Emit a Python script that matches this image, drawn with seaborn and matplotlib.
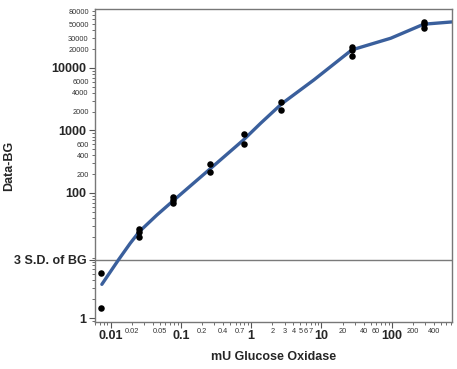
import numpy as np
import pandas as pd
import matplotlib
matplotlib.use("Agg")
import matplotlib.pyplot as plt
import matplotlib.ticker as mticker
import seaborn as sns

# measured points (mU glucose oxidase vs background-subtracted signal)
dose = [0.0073, 0.0073,
        0.0255, 0.0255, 0.0255,
        0.077, 0.077, 0.077,
        0.256, 0.256,
        0.78, 0.78,
        2.7, 2.7,
        27, 27, 27,
        285, 285, 285]
signal = [5.3, 1.46,
          27, 24, 20,
          85, 77, 68,
          291, 214,
          880, 608,
          2900, 2130,
          21500, 19500, 15500,
          54400, 50000, 43000]

# fitted curve
curve_dose = [0.0075, 0.0129, 0.019, 0.0255, 0.0456, 0.077, 0.256, 0.776,
              1.36, 2.7, 7.8, 27, 97, 285, 736]
curve_signal = [3.46, 8.5, 15.7, 24, 44.5, 74.5, 239, 705,
                1300, 2655, 6430, 19400, 29850, 50000, 54500]

sd3 = 8.6  # 3 S.D. of background

y_major = [1, sd3, 100, 1000, 10000]
y_major_labels = ["1", "3 S.D. of BG", "100", "1000", "10000"]
y_minor_labeled = [200, 400, 600, 2000, 4000, 6000, 20000, 30000, 50000, 80000]

x_major = [0.01, 0.1, 1, 10, 100]
x_major_labels = ["0.01", "0.1", "1", "10", "100"]
x_minor_labeled = [0.02, 0.05, 0.2, 0.4, 0.7, 2, 3, 4, 5, 6, 7, 20, 40, 60, 200, 400]

sns.set_style("white")
plt.rcParams['font.family'] = ['Liberation Sans', 'DejaVu Sans']

df = pd.DataFrame({"dose": dose, "signal": signal})
fit = pd.DataFrame({"dose": curve_dose, "signal": curve_signal})

fig = plt.figure(figsize=(4.57, 3.69), dpi=100)
ax = fig.add_axes([0.208, 0.127, 0.781, 0.849])

ax.set_xscale("log")
ax.set_yscale("log")

ax.axhline(sd3, color="#7a7a7a", lw=1.0, zorder=1)
sns.lineplot(data=fit, x="dose", y="signal", color="#3a5f9c", lw=2.4,
             estimator=None, sort=False, ax=ax, zorder=2)
sns.scatterplot(data=df, x="dose", y="signal", color="black", s=22,
                edgecolor="black", linewidth=0, ax=ax, zorder=3)

ax.set_xlim(0.006, 720)
ax.set_ylim(0.86, 88000)

# ticks
ax.yaxis.set_major_locator(mticker.FixedLocator(y_major))
ax.yaxis.set_major_formatter(mticker.FixedFormatter(y_major_labels))
ax.yaxis.set_minor_locator(mticker.LogLocator(base=10, subs=np.arange(2, 10), numticks=20))
ax.yaxis.set_minor_formatter(mticker.FuncFormatter(
    lambda v, p: f"{v:.0f}" if any(abs(v - t) / t < 1e-6 for t in y_minor_labeled) else ""))

ax.xaxis.set_major_locator(mticker.FixedLocator(x_major))
ax.xaxis.set_major_formatter(mticker.FixedFormatter(x_major_labels))
ax.xaxis.set_minor_locator(mticker.LogLocator(base=10, subs=np.arange(2, 10), numticks=20))
ax.xaxis.set_minor_formatter(mticker.FuncFormatter(
    lambda v, p: f"{v:g}" if any(abs(v - t) / t < 1e-6 for t in x_minor_labeled) else ""))

ax.tick_params(which="major", direction="out", length=4, width=0.8, color="#555555",
               labelsize=9, pad=2, bottom=True, left=True)
ax.tick_params(which="minor", direction="out", length=2.5, width=0.6, color="#555555",
               labelsize=5.3, pad=2, bottom=True, left=True)
for lab in ax.get_xticklabels() + ax.get_yticklabels():
    lab.set_fontweight("bold")
for lab in ax.get_xticklabels(minor=True) + ax.get_yticklabels(minor=True):
    lab.set_color("#333333")

for s in ax.spines.values():
    s.set_color("#777777")
    s.set_linewidth(1.0)

ax.set_xlabel("mU Glucose Oxidase", fontsize=9, fontweight="bold", labelpad=6)
ax.set_ylabel("Data-BG", fontsize=9, fontweight="bold")
ax.yaxis.set_label_coords(-0.225, 0.5)

fig.savefig("out.png", dpi=100)
